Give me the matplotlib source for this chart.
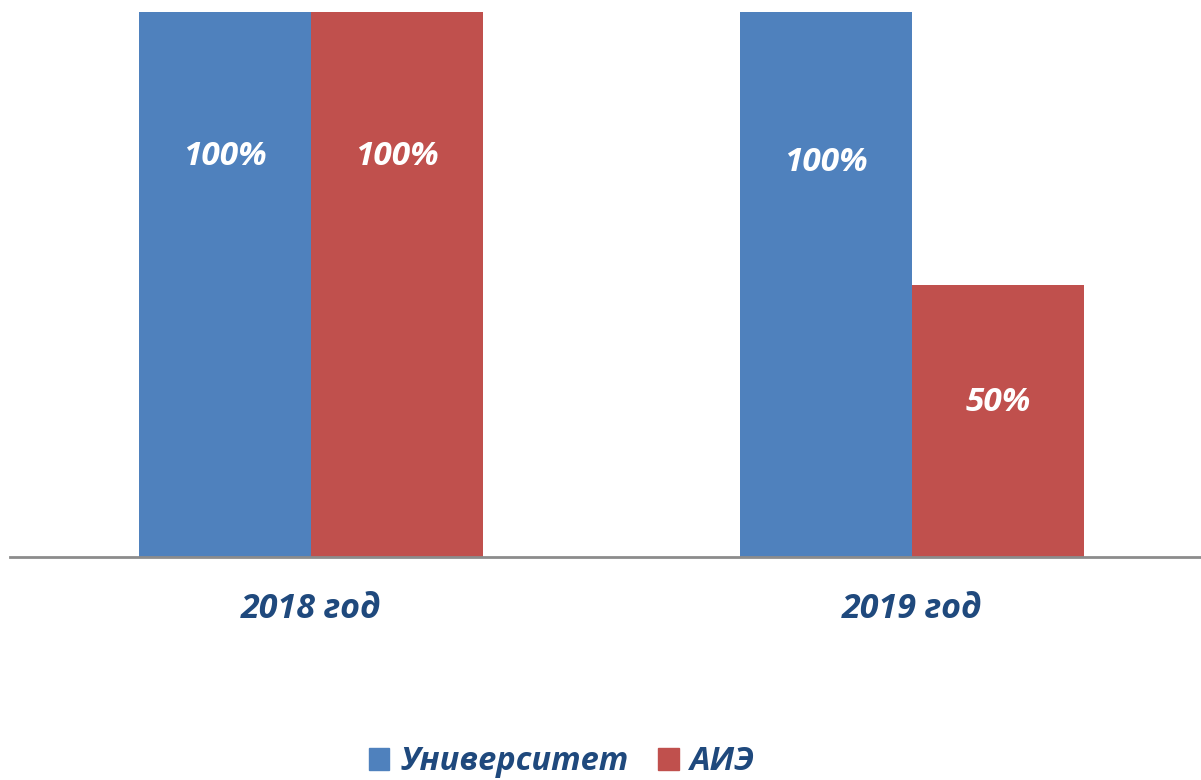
import numpy as np
import matplotlib.pyplot as plt
from matplotlib.patches import Patch

# Data:
years = ["2018 год", "2019 год"]
series = ["Университет", "АИЭ"]
univ = [1.00, 1.00]
aie = [1.00, 0.50]
univ_lbl = ["100%", "100%"]
aie_lbl = ["100%", "50%"]
# label heights (fraction of axis), as placed in the original
univ_lpos = [0.734, 0.723]
aie_lpos = [0.734, 0.283]

blue = "#4F81BD"
red = "#C0504D"
txtc = "#1F497D"
fnt = ["Open Sans", "DejaVu Sans"]

fig = plt.figure(figsize=(12.01, 7.80), dpi=100)
ax = fig.add_axes([10/1201, 1 - 557/780, 1 - 10/1201, (557 - 12)/780])

x = np.arange(len(years))
w = 0.286
ax.bar(x - w/2, univ, w, color=blue, label=series[0])
ax.bar(x + w/2, aie, w, color=red, label=series[1])

for i in range(len(years)):
    ax.text(x[i] - w/2, univ_lpos[i], univ_lbl[i], ha="center", va="center", color="white",
            fontsize=24, fontweight="bold", fontstyle="italic", family=fnt)
    ax.text(x[i] + w/2, aie_lpos[i], aie_lbl[i], ha="center", va="center", color="white",
            fontsize=24, fontweight="bold", fontstyle="italic", family=fnt)

ax.set_xlim(-0.5, 1.481)
ax.set_ylim(0, 1)
for s in ("top", "right", "left"):
    ax.spines[s].set_visible(False)
ax.spines["bottom"].set_color("#8C8C8C")
ax.spines["bottom"].set_linewidth(2)
ax.set_yticks([])
ax.set_xticks(x)
ax.set_xticklabels(years, color=txtc, fontsize=24.5, fontweight="bold", fontstyle="italic", family=fnt)
ax.tick_params(axis="x", length=0, pad=25)

handles = [Patch(color=blue), Patch(color=red)]
fig.legend(handles, series, loc="center", bbox_to_anchor=(0.468, 1 - 762/780), ncol=2, frameon=False,
           handlelength=0.62, handleheight=0.62, handletextpad=0.35, columnspacing=0.9,
           prop={"family": fnt, "size": 23.5, "weight": "bold", "style": "italic"}, labelcolor=txtc)

fig.savefig("out.png", dpi=100)
